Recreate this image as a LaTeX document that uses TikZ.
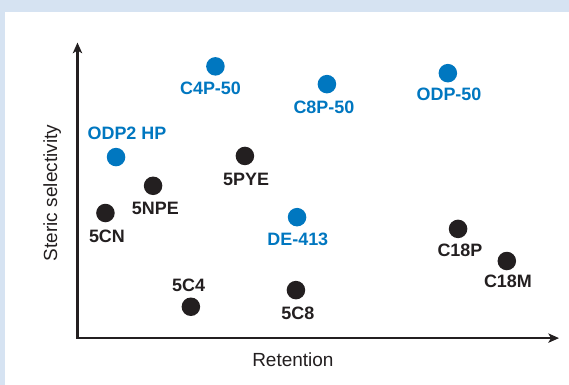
\documentclass[tikz,border=0pt]{standalone}
\usepackage{fontspec}
\setmainfont{Liberation Sans}
\usepackage{xcolor}
\usetikzlibrary{arrows.meta, positioning}
\definecolor{panelblue}{RGB}{214,227,242}
\definecolor{colblue}{RGB}{0,119,192}
\definecolor{colblack}{RGB}{35,31,32}

\begin{document}
\begin{tikzpicture}[
  dot/.style={circle, fill=colblack, inner sep=0pt, minimum size=0.49cm},
  bdot/.style={dot, fill=colblue},
  lbl/.style={font=\fontsize{13.5}{16}\selectfont\bfseries, text=colblack, inner sep=0pt},
  blbl/.style={lbl, text=colblue},
  axislbl/.style={font=\fontsize{14.3}{17}\selectfont, text=colblack, inner sep=0pt},
  axisline/.style={line width=1.9pt, draw=colblack,
    {Stealth[length=8pt,width=7pt,inset=2pt]}-{Stealth[length=8pt,width=7pt,inset=2pt]}}
]
  % panel and frame
  \fill[panelblue] (0,0) rectangle (15.055,10.186);
  \fill[white] (0.13,0) rectangle (15.055,9.86);

  % axes
  \coordinate (origin) at (2.05,1.24);
  \coordinate (ytip) at (2.05,9.06);
  \coordinate (xtip) at (14.79,1.24);
  \draw[axisline] (ytip) -- (origin) -- (xtip);
  \node[axislbl] (xlab) at (7.75,0.66) {Retention};
  \node[axislbl, rotate=90] (ylab) at (1.38,5.08) {Steric selectivity};

  % blue columns
  \node[bdot] (c4p) at (5.70,8.43) {};
  \node[blbl] (c4p-lab) at (5.57,7.85) {C4P-50};
  \node[bdot] (c8p) at (8.65,7.96) {};
  \node[blbl] (c8p-lab) at (8.57,7.34) {C8P-50};
  \node[bdot] (odp) at (11.85,8.25) {};
  \node[blbl] (odp-lab) at (11.88,7.69) {ODP-50};
  \node[bdot] (odp2) at (3.07,6.03) {};
  \node[blbl] (odp2-lab) at (3.36,6.65) {ODP2 HP};
  \node[bdot] (de) at (7.86,4.44) {};
  \node[blbl] (de-lab) at (7.88,3.85) {DE-413};

  % black columns
  \node[dot] (pye) at (6.48,6.06) {};
  \node[lbl] (pye-lab) at (6.51,5.45) {5PYE};
  \node[dot] (npe) at (4.05,5.27) {};
  \node[lbl] (npe-lab) at (4.11,4.66) {5NPE};
  \node[dot] (cn) at (2.79,4.55) {};
  \node[lbl] (cn-lab) at (2.83,3.94) {5CN};
  \node[dot] (c4) at (5.05,2.07) {};
  \node[lbl] (c4-lab) at (4.99,2.63) {5C4};
  \node[dot] (c8) at (7.83,2.51) {};
  \node[lbl] (c8-lab) at (7.88,1.89) {5C8};
  \node[dot] (c18p) at (12.12,4.13) {};
  \node[lbl] (c18p-lab) at (12.17,3.57) {C18P};
  \node[dot] (c18m) at (13.41,3.28) {};
  \node[lbl] (c18m-lab) at (13.44,2.73) {C18M};
\end{tikzpicture}
\end{document}
